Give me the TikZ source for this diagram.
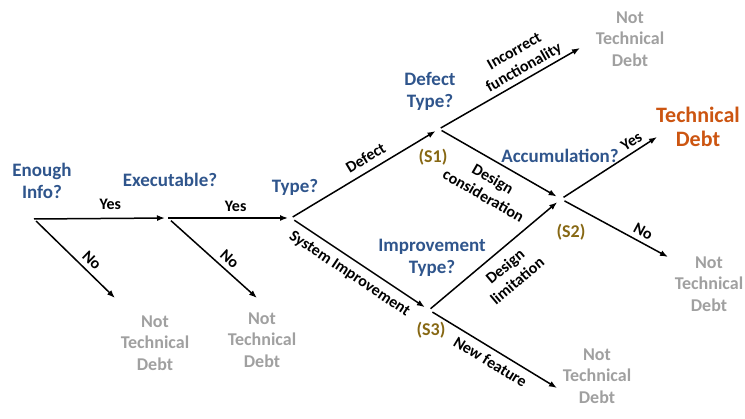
\documentclass[tikz,border=0pt]{standalone}
\usepackage{fontspec}
\setmainfont{Carlito}
\usetikzlibrary{arrows.meta}
\definecolor{qblue}{RGB}{47,85,140}
\definecolor{ntgrey}{RGB}{160,160,160}
\definecolor{tdorange}{RGB}{204,85,17}
\definecolor{sgold}{RGB}{135,104,20}

\begin{document}
\begin{tikzpicture}[x=1pt, y=-1pt,
                    every node/.style={font=\bfseries, align=center, inner sep=1pt},
                    question/.style={text=qblue, font=\bfseries\fontsize{19}{22}\selectfont},
                    nottd/.style={text=ntgrey, font=\bfseries\fontsize{18}{21.5}\selectfont},
                    td/.style={text=tdorange, font=\bfseries\fontsize{22}{24}\selectfont},
                    stage/.style={text=sgold, font=\bfseries\fontsize{18}{20}\selectfont},
                    lbl/.style={sloped, inner sep=5pt, font=\bfseries\fontsize{16}{19}\selectfont},
                    branch/.style={-{Latex[length=8pt,width=6pt]}, line width=1.5pt}]
                \useasboundingbox (0,0) rectangle (745,419);

                % decision points
                \coordinate (info)  at (34,219);
                \coordinate (exec)  at (168,218);
                \coordinate (type)  at (291,218);
                \coordinate (dtype) at (439,129);
                \coordinate (itype) at (429,310);
                \coordinate (accum) at (561,199);

                % free arrow ends
                \coordinate (info-no)   at (115,298);
                \coordinate (exec-no)   at (257,298);
                \coordinate (dtype-if)  at (580,48);
                \coordinate (accum-yes) at (657,137);
                \coordinate (accum-no)  at (668,257);
                \coordinate (itype-nf)  at (557,388);

                \node[question] (q1) at (42,181)  {Enough\\Info?};
                \node[question] (q2) at (170,180) {Executable?};
                \node[question] (q3) at (295,187) {Type?};
                \node[question] (q4) at (430,91)  {Defect\\Type?};
                \node[question] (q5) at (432,258) {Improvement\\Type?};
                \node[question] (q6) at (560,156) {Accumulation?};

                \node[stage] (s1) at (433,157) {(S1)};
                \node[stage] (s2) at (571,232) {(S2)};
                \node[stage] (s3) at (431,330) {(S3)};

                \node[nottd] (nt1) at (155,343) {Not\\Technical\\Debt};
                \node[nottd] (nt2) at (262,340) {Not\\Technical\\Debt};
                \node[nottd] (nt3) at (630,39)  {Not\\Technical\\Debt};
                \node[nottd] (nt4) at (709,284) {Not\\Technical\\Debt};
                \node[nottd] (nt5) at (597,376) {Not\\Technical\\Debt};
                \node[td]    (td)  at (698,127) {Technical\\Debt};

                \draw [branch, shorten >=3pt] (info) -- node[lbl, above, inner sep=8pt, pos=0.57] {Yes} (exec);
                \draw [branch, shorten <=3pt] (info) -- node[lbl, above, pos=0.62] {No} (info-no);
                \draw [branch, shorten >=3pt] (exec) -- node[lbl, above, inner sep=6pt, pos=0.55] {Yes} (type);
                \draw [branch, shorten <=4pt] (exec) -- node[lbl, above, pos=0.61] {No} (exec-no);

                \draw [branch, shorten <=2pt, shorten >=4pt] (type) -- node[lbl, above, inner sep=7pt, pos=0.55] {Defect} (dtype);
                \draw [branch, shorten <=4pt, shorten >=5pt] (type) -- node[lbl, below, inner sep=7pt, pos=0.48] {System Improvement} (itype);

                \draw [branch, shorten <=2pt] (dtype) -- node[lbl, above, inner sep=3pt, pos=0.64] {Incorrect\\functionality} (dtype-if);
                \draw [branch, shorten <=3pt, shorten >=5pt] (dtype) -- node[lbl, below, inner sep=10pt, pos=0.51] {Design\\consideration} (accum);
                \draw [branch, shorten <=2pt, shorten >=5pt] (itype) -- node[lbl, below, inner sep=9pt, pos=0.50] {Design\\limitation} (accum);
                \draw [branch, shorten <=4pt] (itype) -- node[lbl, below, inner sep=6pt, pos=0.53] {New feature} (itype-nf);

                \draw [branch, shorten <=3pt] (accum) -- node[lbl, above, inner sep=4pt, pos=0.79] {Yes} (accum-yes);
                \draw [branch, shorten <=4pt] (accum) -- node[lbl, above, pos=0.72] {No} (accum-no);
            \end{tikzpicture}
\end{document}
